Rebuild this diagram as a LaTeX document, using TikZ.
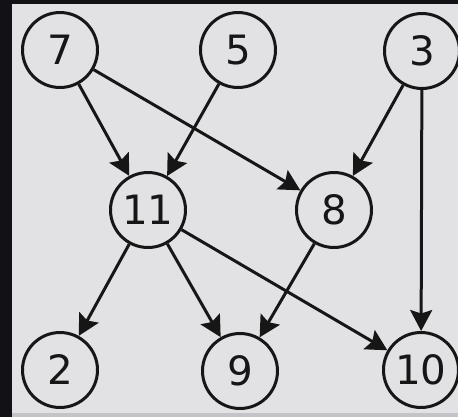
\documentclass[tikz,border=0pt]{standalone}
\usepackage{fontspec}
\setmainfont{DejaVu Sans}
\usepackage{tikz}
\usetikzlibrary{arrows.meta}
\definecolor{frame}{RGB}{18,18,22}
\definecolor{panel}{RGB}{226,226,229}
\definecolor{strip}{RGB}{196,196,200}
\definecolor{ink}{RGB}{22,22,22}

\begin{document}
\begin{tikzpicture}[x=0.02cm, y=-0.02cm, >={Stealth[length=0.42cm, width=0.44cm, inset=0.07cm]},
    vertex/.style={circle, draw=ink, line width=0.06cm, minimum size=1.5cm, inner sep=0pt,
                   font=\fontsize{23}{23}\selectfont, text=ink},
    edge/.style={->, draw=ink, line width=0.06cm}]

    % Frame and panel
    \fill[frame] (0,0) rectangle (458,417);
    \fill[panel] (12,4) rectangle (458,413);
    \fill[strip] (12,413) rectangle (458,417);
    \useasboundingbox (0,0) rectangle (458,417);

    % Vertices
    \node[vertex] (v7) at (60,50) {7};
    \node[vertex] (v5) at (238,50) {5};
    \node[vertex] (v3) at (422,51) {3};
    \node[vertex] (v11) at (148,210) {11};
    \node[vertex] (v8) at (334,210) {8};
    \node[vertex] (v2) at (60,370) {2};
    \node[vertex] (v9) at (240,371) {9};
    \node[vertex] (v10) at (421,370) {10};

    % Edges
    \draw[edge] (v7) -- (v11);
    \draw[edge] (v7) -- (v8);
    \draw[edge] (v5) -- (v11);
    \draw[edge] (v3) -- (v8);
    \draw[edge] (v3) -- (v10);
    \draw[edge] (v11) -- (v2);
    \draw[edge] (v11) -- (v9);
    \draw[edge] (v11) -- (v10);
    \draw[edge] (v8) -- (v9);

\end{tikzpicture}
\end{document}
